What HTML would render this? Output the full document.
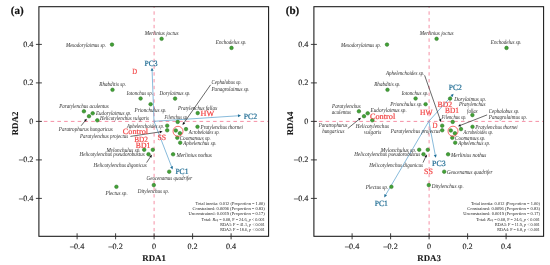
<!DOCTYPE html><html><head><meta charset="utf-8"><style>html,body{margin:0;padding:0;background:#fff;}svg{display:block;will-change:transform;}text{font-family:"Liberation Serif",serif;text-rendering:geometricPrecision;}</style></head><body>
<svg width="550" height="265" viewBox="0 0 550 265">
<rect width="550" height="265" fill="#fff"/>
<line x1="38.90" y1="121.4" x2="268.60" y2="121.4" stroke="#f590a5" stroke-width="1" stroke-dasharray="3.6 3.17" stroke-dashoffset="1.85"/>
<line x1="154.10" y1="6.7" x2="154.10" y2="236.3" stroke="#f590a5" stroke-width="1" stroke-dasharray="3.4 3.37" stroke-dashoffset="2.15"/>
<rect x="38.90" y="6.7" width="229.70" height="229.60" fill="none" stroke="#151515" stroke-width="1.05"/>
<line x1="77.10" y1="233.3" x2="77.10" y2="239.3" stroke="#2a2a2a" stroke-width="0.9"/>
<text x="77.10" y="249.20" font-size="8.2" fill="#1a1a1a" text-anchor="middle" stroke="#1a1a1a" stroke-width="0.12">–0.4</text>
<line x1="35.90" y1="198.40" x2="41.90" y2="198.40" stroke="#2a2a2a" stroke-width="0.9"/>
<text x="33.40" y="200.90" font-size="8.2" fill="#1a1a1a" text-anchor="end" stroke="#1a1a1a" stroke-width="0.12">–0.4</text>
<line x1="115.60" y1="233.3" x2="115.60" y2="239.3" stroke="#2a2a2a" stroke-width="0.9"/>
<text x="115.60" y="249.20" font-size="8.2" fill="#1a1a1a" text-anchor="middle" stroke="#1a1a1a" stroke-width="0.12">–0.2</text>
<line x1="35.90" y1="159.90" x2="41.90" y2="159.90" stroke="#2a2a2a" stroke-width="0.9"/>
<text x="33.40" y="162.40" font-size="8.2" fill="#1a1a1a" text-anchor="end" stroke="#1a1a1a" stroke-width="0.12">–0.2</text>
<line x1="154.10" y1="233.3" x2="154.10" y2="239.3" stroke="#2a2a2a" stroke-width="0.9"/>
<text x="154.10" y="249.20" font-size="8.2" fill="#1a1a1a" text-anchor="middle" stroke="#1a1a1a" stroke-width="0.12">0</text>
<line x1="35.90" y1="121.40" x2="41.90" y2="121.40" stroke="#2a2a2a" stroke-width="0.9"/>
<text x="33.40" y="123.90" font-size="8.2" fill="#1a1a1a" text-anchor="end" stroke="#1a1a1a" stroke-width="0.12">0</text>
<line x1="192.60" y1="233.3" x2="192.60" y2="239.3" stroke="#2a2a2a" stroke-width="0.9"/>
<text x="192.60" y="249.20" font-size="8.2" fill="#1a1a1a" text-anchor="middle" stroke="#1a1a1a" stroke-width="0.12">0.2</text>
<line x1="35.90" y1="82.90" x2="41.90" y2="82.90" stroke="#2a2a2a" stroke-width="0.9"/>
<text x="33.40" y="85.40" font-size="8.2" fill="#1a1a1a" text-anchor="end" stroke="#1a1a1a" stroke-width="0.12">0.2</text>
<line x1="231.10" y1="233.3" x2="231.10" y2="239.3" stroke="#2a2a2a" stroke-width="0.9"/>
<text x="231.10" y="249.20" font-size="8.2" fill="#1a1a1a" text-anchor="middle" stroke="#1a1a1a" stroke-width="0.12">0.4</text>
<line x1="35.90" y1="44.40" x2="41.90" y2="44.40" stroke="#2a2a2a" stroke-width="0.9"/>
<text x="33.40" y="46.90" font-size="8.2" fill="#1a1a1a" text-anchor="end" stroke="#1a1a1a" stroke-width="0.12">0.4</text>
<text x="154.10" y="261.40" font-size="8.9" fill="#1a1a1a" text-anchor="middle" font-weight="bold" stroke="#1a1a1a" stroke-width="0.1">RDA1</text>
<text x="0" y="0" font-size="8.9" font-weight="bold" fill="#1a1a1a" stroke="#1a1a1a" stroke-width="0.1" text-anchor="middle" transform="translate(17.60,123.50) rotate(-90)">RDA2</text>
<text x="10.80" y="14.00" font-size="11.0" fill="#111" text-anchor="start" font-weight="bold" stroke="#111" stroke-width="0.2">(a)</text>
<line x1="313.90" y1="121.4" x2="543.60" y2="121.4" stroke="#f590a5" stroke-width="1" stroke-dasharray="3.6 3.17" stroke-dashoffset="1.85"/>
<line x1="429.10" y1="6.7" x2="429.10" y2="236.3" stroke="#f590a5" stroke-width="1" stroke-dasharray="3.4 3.37" stroke-dashoffset="2.15"/>
<rect x="313.90" y="6.7" width="229.70" height="229.60" fill="none" stroke="#151515" stroke-width="1.05"/>
<line x1="352.10" y1="233.3" x2="352.10" y2="239.3" stroke="#2a2a2a" stroke-width="0.9"/>
<text x="352.10" y="249.20" font-size="8.2" fill="#1a1a1a" text-anchor="middle" stroke="#1a1a1a" stroke-width="0.12">–0.4</text>
<line x1="310.90" y1="198.40" x2="316.90" y2="198.40" stroke="#2a2a2a" stroke-width="0.9"/>
<text x="308.40" y="200.90" font-size="8.2" fill="#1a1a1a" text-anchor="end" stroke="#1a1a1a" stroke-width="0.12">–0.4</text>
<line x1="390.60" y1="233.3" x2="390.60" y2="239.3" stroke="#2a2a2a" stroke-width="0.9"/>
<text x="390.60" y="249.20" font-size="8.2" fill="#1a1a1a" text-anchor="middle" stroke="#1a1a1a" stroke-width="0.12">–0.2</text>
<line x1="310.90" y1="159.90" x2="316.90" y2="159.90" stroke="#2a2a2a" stroke-width="0.9"/>
<text x="308.40" y="162.40" font-size="8.2" fill="#1a1a1a" text-anchor="end" stroke="#1a1a1a" stroke-width="0.12">–0.2</text>
<line x1="429.10" y1="233.3" x2="429.10" y2="239.3" stroke="#2a2a2a" stroke-width="0.9"/>
<text x="429.10" y="249.20" font-size="8.2" fill="#1a1a1a" text-anchor="middle" stroke="#1a1a1a" stroke-width="0.12">0</text>
<line x1="310.90" y1="121.40" x2="316.90" y2="121.40" stroke="#2a2a2a" stroke-width="0.9"/>
<text x="308.40" y="123.90" font-size="8.2" fill="#1a1a1a" text-anchor="end" stroke="#1a1a1a" stroke-width="0.12">0</text>
<line x1="467.60" y1="233.3" x2="467.60" y2="239.3" stroke="#2a2a2a" stroke-width="0.9"/>
<text x="467.60" y="249.20" font-size="8.2" fill="#1a1a1a" text-anchor="middle" stroke="#1a1a1a" stroke-width="0.12">0.2</text>
<line x1="310.90" y1="82.90" x2="316.90" y2="82.90" stroke="#2a2a2a" stroke-width="0.9"/>
<text x="308.40" y="85.40" font-size="8.2" fill="#1a1a1a" text-anchor="end" stroke="#1a1a1a" stroke-width="0.12">0.2</text>
<line x1="506.10" y1="233.3" x2="506.10" y2="239.3" stroke="#2a2a2a" stroke-width="0.9"/>
<text x="506.10" y="249.20" font-size="8.2" fill="#1a1a1a" text-anchor="middle" stroke="#1a1a1a" stroke-width="0.12">0.4</text>
<line x1="310.90" y1="44.40" x2="316.90" y2="44.40" stroke="#2a2a2a" stroke-width="0.9"/>
<text x="308.40" y="46.90" font-size="8.2" fill="#1a1a1a" text-anchor="end" stroke="#1a1a1a" stroke-width="0.12">0.4</text>
<text x="429.10" y="261.40" font-size="8.9" fill="#1a1a1a" text-anchor="middle" font-weight="bold" stroke="#1a1a1a" stroke-width="0.1">RDA3</text>
<text x="0" y="0" font-size="8.9" font-weight="bold" fill="#1a1a1a" stroke="#1a1a1a" stroke-width="0.1" text-anchor="middle" transform="translate(292.60,123.50) rotate(-90)">RDA4</text>
<text x="285.80" y="14.00" font-size="11.0" fill="#111" text-anchor="start" font-weight="bold" stroke="#111" stroke-width="0.2">(b)</text>
<line x1="154.00" y1="121.30" x2="171.63" y2="166.88" stroke="#6aaad2" stroke-width="0.8"/><polygon points="172.60,169.40 170.12,167.14 172.92,166.06" fill="#1f6e96"/>
<line x1="154.00" y1="121.30" x2="238.31" y2="115.78" stroke="#6aaad2" stroke-width="0.8"/><polygon points="241.00,115.60 238.10,117.29 237.91,114.30" fill="#1f6e96"/>
<line x1="154.00" y1="121.30" x2="152.10" y2="70.50" stroke="#6aaad2" stroke-width="0.8"/><polygon points="152.00,67.80 153.61,70.74 150.61,70.85" fill="#1f6e96"/>
<line x1="428.80" y1="121.30" x2="385.57" y2="195.07" stroke="#6aaad2" stroke-width="0.8"/><polygon points="384.20,197.40 384.42,194.05 387.01,195.57" fill="#1f6e96"/>
<line x1="428.80" y1="121.30" x2="451.79" y2="95.81" stroke="#6aaad2" stroke-width="0.8"/><polygon points="453.60,93.80 452.70,97.03 450.48,95.02" fill="#1f6e96"/>
<line x1="428.80" y1="121.30" x2="435.29" y2="155.15" stroke="#6aaad2" stroke-width="0.8"/><polygon points="435.80,157.80 433.76,155.14 436.71,154.57" fill="#1f6e96"/>
<line x1="81.10" y1="125.80" x2="85.23" y2="120.65" stroke="#2a2a2a" stroke-width="0.7"/><polygon points="86.80,118.70 86.06,121.70 84.03,120.07" fill="#111"/>
<line x1="130.40" y1="136.40" x2="160.13" y2="131.88" stroke="#2a2a2a" stroke-width="0.7"/><polygon points="162.60,131.50 160.03,133.21 159.64,130.64" fill="#111"/>
<line x1="210.60" y1="84.80" x2="183.93" y2="122.95" stroke="#2a2a2a" stroke-width="0.7"/><polygon points="182.50,125.00 183.04,121.96 185.17,123.45" fill="#111"/>
<line x1="146.60" y1="162.60" x2="150.51" y2="156.78" stroke="#2a2a2a" stroke-width="0.7"/><polygon points="151.90,154.70 151.42,157.75 149.26,156.30" fill="#111"/>
<line x1="347.90" y1="128.40" x2="359.06" y2="119.37" stroke="#2a2a2a" stroke-width="0.7"/><polygon points="361.00,117.80 359.64,120.57 358.01,118.55" fill="#111"/>
<line x1="424.60" y1="75.30" x2="440.17" y2="119.54" stroke="#2a2a2a" stroke-width="0.7"/><polygon points="441.00,121.90 438.84,119.69 441.30,118.83" fill="#111"/>
<line x1="487.10" y1="114.90" x2="460.33" y2="125.39" stroke="#2a2a2a" stroke-width="0.7"/><polygon points="458.00,126.30 460.13,124.07 461.08,126.49" fill="#111"/>
<line x1="423.00" y1="162.60" x2="425.75" y2="156.67" stroke="#2a2a2a" stroke-width="0.7"/><polygon points="426.80,154.40 426.80,157.49 424.44,156.39" fill="#111"/>
<circle cx="112.00" cy="44.60" r="1.8" fill="#43a236" stroke="#2a7625" stroke-width="0.55"/>
<circle cx="161.60" cy="38.80" r="1.8" fill="#43a236" stroke="#2a7625" stroke-width="0.55"/>
<circle cx="231.50" cy="47.90" r="1.8" fill="#43a236" stroke="#2a7625" stroke-width="0.55"/>
<circle cx="112.50" cy="89.80" r="1.8" fill="#43a236" stroke="#2a7625" stroke-width="0.55"/>
<circle cx="140.60" cy="98.50" r="1.8" fill="#43a236" stroke="#2a7625" stroke-width="0.55"/>
<circle cx="175.10" cy="98.60" r="1.8" fill="#43a236" stroke="#2a7625" stroke-width="0.55"/>
<circle cx="150.60" cy="104.20" r="1.8" fill="#43a236" stroke="#2a7625" stroke-width="0.55"/>
<circle cx="197.70" cy="113.10" r="1.8" fill="#43a236" stroke="#2a7625" stroke-width="0.55"/>
<circle cx="83.90" cy="111.30" r="1.8" fill="#43a236" stroke="#2a7625" stroke-width="0.55"/>
<circle cx="92.70" cy="113.30" r="1.8" fill="#43a236" stroke="#2a7625" stroke-width="0.55"/>
<circle cx="89.00" cy="116.20" r="1.8" fill="#43a236" stroke="#2a7625" stroke-width="0.55"/>
<circle cx="97.30" cy="120.30" r="1.8" fill="#43a236" stroke="#2a7625" stroke-width="0.55"/>
<circle cx="177.70" cy="121.90" r="1.8" fill="#43a236" stroke="#2a7625" stroke-width="0.55"/>
<circle cx="167.20" cy="125.70" r="1.8" fill="#43a236" stroke="#2a7625" stroke-width="0.55"/>
<circle cx="167.20" cy="130.30" r="1.8" fill="#43a236" stroke="#2a7625" stroke-width="0.55"/>
<circle cx="175.80" cy="130.50" r="1.8" fill="#43a236" stroke="#2a7625" stroke-width="0.55"/>
<circle cx="179.90" cy="133.20" r="1.8" fill="#43a236" stroke="#2a7625" stroke-width="0.55"/>
<circle cx="186.00" cy="129.10" r="1.8" fill="#43a236" stroke="#2a7625" stroke-width="0.55"/>
<circle cx="197.50" cy="126.80" r="1.8" fill="#43a236" stroke="#2a7625" stroke-width="0.55"/>
<circle cx="177.30" cy="137.80" r="1.8" fill="#43a236" stroke="#2a7625" stroke-width="0.55"/>
<circle cx="180.20" cy="142.70" r="1.8" fill="#43a236" stroke="#2a7625" stroke-width="0.55"/>
<circle cx="144.20" cy="149.80" r="1.8" fill="#43a236" stroke="#2a7625" stroke-width="0.55"/>
<circle cx="152.80" cy="149.80" r="1.8" fill="#43a236" stroke="#2a7625" stroke-width="0.55"/>
<circle cx="148.50" cy="154.20" r="1.8" fill="#43a236" stroke="#2a7625" stroke-width="0.55"/>
<circle cx="173.10" cy="154.30" r="1.8" fill="#43a236" stroke="#2a7625" stroke-width="0.55"/>
<circle cx="169.20" cy="171.70" r="1.8" fill="#43a236" stroke="#2a7625" stroke-width="0.55"/>
<circle cx="153.80" cy="185.10" r="1.8" fill="#43a236" stroke="#2a7625" stroke-width="0.55"/>
<circle cx="116.40" cy="186.80" r="1.8" fill="#43a236" stroke="#2a7625" stroke-width="0.55"/>
<circle cx="387.00" cy="44.60" r="1.8" fill="#43a236" stroke="#2a7625" stroke-width="0.55"/>
<circle cx="436.60" cy="38.80" r="1.8" fill="#43a236" stroke="#2a7625" stroke-width="0.55"/>
<circle cx="506.50" cy="47.90" r="1.8" fill="#43a236" stroke="#2a7625" stroke-width="0.55"/>
<circle cx="387.50" cy="89.80" r="1.8" fill="#43a236" stroke="#2a7625" stroke-width="0.55"/>
<circle cx="415.60" cy="98.50" r="1.8" fill="#43a236" stroke="#2a7625" stroke-width="0.55"/>
<circle cx="450.10" cy="98.60" r="1.8" fill="#43a236" stroke="#2a7625" stroke-width="0.55"/>
<circle cx="425.60" cy="104.20" r="1.8" fill="#43a236" stroke="#2a7625" stroke-width="0.55"/>
<circle cx="472.40" cy="115.10" r="1.8" fill="#43a236" stroke="#2a7625" stroke-width="0.55"/>
<circle cx="358.90" cy="111.30" r="1.8" fill="#43a236" stroke="#2a7625" stroke-width="0.55"/>
<circle cx="367.70" cy="113.30" r="1.8" fill="#43a236" stroke="#2a7625" stroke-width="0.55"/>
<circle cx="364.00" cy="116.20" r="1.8" fill="#43a236" stroke="#2a7625" stroke-width="0.55"/>
<circle cx="372.30" cy="120.30" r="1.8" fill="#43a236" stroke="#2a7625" stroke-width="0.55"/>
<circle cx="452.70" cy="121.90" r="1.8" fill="#43a236" stroke="#2a7625" stroke-width="0.55"/>
<circle cx="442.20" cy="125.70" r="1.8" fill="#43a236" stroke="#2a7625" stroke-width="0.55"/>
<circle cx="442.20" cy="130.30" r="1.8" fill="#43a236" stroke="#2a7625" stroke-width="0.55"/>
<circle cx="450.80" cy="130.50" r="1.8" fill="#43a236" stroke="#2a7625" stroke-width="0.55"/>
<circle cx="454.90" cy="133.20" r="1.8" fill="#43a236" stroke="#2a7625" stroke-width="0.55"/>
<circle cx="461.00" cy="129.10" r="1.8" fill="#43a236" stroke="#2a7625" stroke-width="0.55"/>
<circle cx="472.50" cy="126.80" r="1.8" fill="#43a236" stroke="#2a7625" stroke-width="0.55"/>
<circle cx="452.30" cy="137.80" r="1.8" fill="#43a236" stroke="#2a7625" stroke-width="0.55"/>
<circle cx="455.20" cy="142.70" r="1.8" fill="#43a236" stroke="#2a7625" stroke-width="0.55"/>
<circle cx="419.20" cy="149.80" r="1.8" fill="#43a236" stroke="#2a7625" stroke-width="0.55"/>
<circle cx="427.80" cy="149.80" r="1.8" fill="#43a236" stroke="#2a7625" stroke-width="0.55"/>
<circle cx="423.50" cy="154.20" r="1.8" fill="#43a236" stroke="#2a7625" stroke-width="0.55"/>
<circle cx="448.10" cy="154.30" r="1.8" fill="#43a236" stroke="#2a7625" stroke-width="0.55"/>
<circle cx="444.20" cy="171.70" r="1.8" fill="#43a236" stroke="#2a7625" stroke-width="0.55"/>
<circle cx="428.80" cy="185.10" r="1.8" fill="#43a236" stroke="#2a7625" stroke-width="0.55"/>
<circle cx="391.40" cy="186.80" r="1.8" fill="#43a236" stroke="#2a7625" stroke-width="0.55"/>
<circle cx="178.0" cy="131.3" r="5.0" fill="none" stroke="#f04848" stroke-width="0.8"/>
<circle cx="453.0" cy="131.2" r="5.0" fill="none" stroke="#f04848" stroke-width="0.8"/>
<text x="66.00" y="46.80" font-size="6.0" fill="#2a2a2a" font-style="italic" text-anchor="start" textLength="40.10" lengthAdjust="spacingAndGlyphs">Mesodorylaimus sp.</text>
<text x="144.75" y="35.40" font-size="6.0" fill="#2a2a2a" font-style="italic" text-anchor="start" textLength="33.75" lengthAdjust="spacingAndGlyphs">Merlinius joctus</text>
<text x="215.80" y="44.10" font-size="6.0" fill="#2a2a2a" font-style="italic" text-anchor="start" textLength="30.80" lengthAdjust="spacingAndGlyphs">Enchodelus sp.</text>
<text x="99.30" y="86.20" font-size="6.0" fill="#2a2a2a" font-style="italic" text-anchor="start" textLength="26.70" lengthAdjust="spacingAndGlyphs">Rhabditis sp.</text>
<text x="126.80" y="95.20" font-size="6.0" fill="#2a2a2a" font-style="italic" text-anchor="start" textLength="26.10" lengthAdjust="spacingAndGlyphs">Iotonchus sp.</text>
<text x="159.50" y="95.00" font-size="6.0" fill="#2a2a2a" font-style="italic" text-anchor="start" textLength="31.10" lengthAdjust="spacingAndGlyphs">Dorylaimus sp.</text>
<text x="134.60" y="112.40" font-size="6.0" fill="#2a2a2a" font-style="italic" text-anchor="start" textLength="31.90" lengthAdjust="spacingAndGlyphs">Prionchulus sp.</text>
<text x="211.50" y="84.20" font-size="6.0" fill="#2a2a2a" font-style="italic" text-anchor="start" textLength="30.20" lengthAdjust="spacingAndGlyphs">Cephalobus sp.</text>
<text x="211.50" y="90.80" font-size="6.0" fill="#2a2a2a" font-style="italic" text-anchor="start" textLength="38.10" lengthAdjust="spacingAndGlyphs">Panagrolaimus sp.</text>
<text x="177.90" y="109.70" font-size="6.0" fill="#2a2a2a" font-style="italic" text-anchor="start" textLength="39.30" lengthAdjust="spacingAndGlyphs">Pratylenchus fallax</text>
<text x="59.20" y="107.80" font-size="6.0" fill="#2a2a2a" font-style="italic" text-anchor="start" textLength="49.50" lengthAdjust="spacingAndGlyphs">Paratylenchus aculentus</text>
<text x="96.00" y="114.90" font-size="6.0" fill="#2a2a2a" font-style="italic" text-anchor="start" textLength="35.40" lengthAdjust="spacingAndGlyphs">Eudorylaimus sp.</text>
<text x="100.00" y="119.90" font-size="6.0" fill="#2a2a2a" font-style="italic" text-anchor="start" textLength="49.00" lengthAdjust="spacingAndGlyphs">Helicotylenchus vulgaris</text>
<text x="58.80" y="131.00" font-size="6.0" fill="#2a2a2a" font-style="italic" text-anchor="start" textLength="54.00" lengthAdjust="spacingAndGlyphs">Paratrophurus hungaricus</text>
<text x="80.10" y="138.10" font-size="6.0" fill="#2a2a2a" font-style="italic" text-anchor="start" textLength="48.10" lengthAdjust="spacingAndGlyphs">Paratylenchus projectus</text>
<text x="126.90" y="127.90" font-size="6.0" fill="#2a2a2a" font-style="italic" text-anchor="start" textLength="37.10" lengthAdjust="spacingAndGlyphs">Aphelenchoides sp.</text>
<text x="164.50" y="118.50" font-size="6.0" fill="#2a2a2a" font-style="italic" text-anchor="start" textLength="23.50" lengthAdjust="spacingAndGlyphs">Filenchus sp.</text>
<text x="200.60" y="129.30" font-size="6.0" fill="#2a2a2a" font-style="italic" text-anchor="start" textLength="42.20" lengthAdjust="spacingAndGlyphs">Pratylenchus thornei</text>
<text x="188.70" y="134.20" font-size="6.0" fill="#2a2a2a" font-style="italic" text-anchor="start" textLength="31.10" lengthAdjust="spacingAndGlyphs">Acrobeloides sp.</text>
<text x="179.70" y="140.00" font-size="6.0" fill="#2a2a2a" font-style="italic" text-anchor="start" textLength="31.10" lengthAdjust="spacingAndGlyphs">Coomansus sp.</text>
<text x="183.20" y="145.00" font-size="6.0" fill="#2a2a2a" font-style="italic" text-anchor="start" textLength="33.30" lengthAdjust="spacingAndGlyphs">Aphelenchus sp.</text>
<text x="106.40" y="151.60" font-size="6.0" fill="#2a2a2a" font-style="italic" text-anchor="start" textLength="34.20" lengthAdjust="spacingAndGlyphs">Mylonchulus sp.</text>
<text x="79.50" y="156.30" font-size="6.0" fill="#2a2a2a" font-style="italic" text-anchor="start" textLength="65.20" lengthAdjust="spacingAndGlyphs">Helicotylenchus pseudorobustus</text>
<text x="93.60" y="167.00" font-size="6.0" fill="#2a2a2a" font-style="italic" text-anchor="start" textLength="53.00" lengthAdjust="spacingAndGlyphs">Helicotylenchus digonicus</text>
<text x="176.40" y="156.50" font-size="6.0" fill="#2a2a2a" font-style="italic" text-anchor="start" textLength="35.50" lengthAdjust="spacingAndGlyphs">Merlinius nothus</text>
<text x="146.60" y="179.70" font-size="6.0" fill="#2a2a2a" font-style="italic" text-anchor="start" textLength="45.70" lengthAdjust="spacingAndGlyphs">Geocenamus quadrifer</text>
<text x="137.70" y="192.60" font-size="6.0" fill="#2a2a2a" font-style="italic" text-anchor="start" textLength="31.50" lengthAdjust="spacingAndGlyphs">Ditylenchus sp.</text>
<text x="105.50" y="195.20" font-size="6.0" fill="#2a2a2a" font-style="italic" text-anchor="start" textLength="22.20" lengthAdjust="spacingAndGlyphs">Plectus sp.</text>
<text x="341.00" y="46.80" font-size="6.0" fill="#2a2a2a" font-style="italic" text-anchor="start" textLength="40.10" lengthAdjust="spacingAndGlyphs">Mesodorylaimus sp.</text>
<text x="419.75" y="35.40" font-size="6.0" fill="#2a2a2a" font-style="italic" text-anchor="start" textLength="33.75" lengthAdjust="spacingAndGlyphs">Merlinius joctus</text>
<text x="490.80" y="44.10" font-size="6.0" fill="#2a2a2a" font-style="italic" text-anchor="start" textLength="30.80" lengthAdjust="spacingAndGlyphs">Enchodelus sp.</text>
<text x="385.90" y="74.60" font-size="6.0" fill="#2a2a2a" font-style="italic" text-anchor="start" textLength="38.50" lengthAdjust="spacingAndGlyphs">Aphelenchoides sp.</text>
<text x="374.30" y="86.00" font-size="6.0" fill="#2a2a2a" font-style="italic" text-anchor="start" textLength="26.30" lengthAdjust="spacingAndGlyphs">Rhabditis sp.</text>
<text x="401.70" y="95.00" font-size="6.0" fill="#2a2a2a" font-style="italic" text-anchor="start" textLength="26.80" lengthAdjust="spacingAndGlyphs">Iotonchus sp.</text>
<text x="390.20" y="106.40" font-size="6.0" fill="#2a2a2a" font-style="italic" text-anchor="start" textLength="32.40" lengthAdjust="spacingAndGlyphs">Prionchulus sp.</text>
<text x="332.10" y="107.70" font-size="6.0" fill="#2a2a2a" font-style="italic" text-anchor="start" textLength="28.70" lengthAdjust="spacingAndGlyphs">Paratylenchus</text>
<text x="331.80" y="114.20" font-size="6.0" fill="#2a2a2a" font-style="italic" text-anchor="start" textLength="19.20" lengthAdjust="spacingAndGlyphs">aculentus</text>
<text x="370.60" y="112.40" font-size="6.0" fill="#2a2a2a" font-style="italic" text-anchor="start" textLength="36.10" lengthAdjust="spacingAndGlyphs">Eudorylaimus sp.</text>
<text x="454.20" y="101.00" font-size="6.0" fill="#2a2a2a" font-style="italic" text-anchor="start" textLength="31.90" lengthAdjust="spacingAndGlyphs">Dorylaimus sp.</text>
<text x="459.00" y="106.40" font-size="6.0" fill="#2a2a2a" font-style="italic" text-anchor="start" textLength="26.50" lengthAdjust="spacingAndGlyphs">Pratylenchus</text>
<text x="467.10" y="112.50" font-size="6.0" fill="#2a2a2a" font-style="italic" text-anchor="start" textLength="10.50" lengthAdjust="spacingAndGlyphs">fallax</text>
<text x="488.80" y="112.70" font-size="6.0" fill="#2a2a2a" font-style="italic" text-anchor="start" textLength="30.60" lengthAdjust="spacingAndGlyphs">Cephalobus sp.</text>
<text x="488.80" y="119.20" font-size="6.0" fill="#2a2a2a" font-style="italic" text-anchor="start" textLength="38.20" lengthAdjust="spacingAndGlyphs">Panagrolaimus sp.</text>
<text x="318.80" y="127.10" font-size="6.0" fill="#2a2a2a" font-style="italic" text-anchor="start" textLength="28.70" lengthAdjust="spacingAndGlyphs">Paratrophurus</text>
<text x="322.20" y="133.10" font-size="6.0" fill="#2a2a2a" font-style="italic" text-anchor="start" textLength="22.20" lengthAdjust="spacingAndGlyphs">hungaricus</text>
<text x="355.80" y="128.20" font-size="6.0" fill="#2a2a2a" font-style="italic" text-anchor="start" textLength="33.20" lengthAdjust="spacingAndGlyphs">Helicotylenchus</text>
<text x="364.00" y="133.90" font-size="6.0" fill="#2a2a2a" font-style="italic" text-anchor="start" textLength="17.40" lengthAdjust="spacingAndGlyphs">vulgaris</text>
<text x="441.50" y="119.20" font-size="6.0" fill="#2a2a2a" font-style="italic" text-anchor="start" textLength="24.90" lengthAdjust="spacingAndGlyphs">Filenchus sp.</text>
<text x="390.80" y="132.50" font-size="6.0" fill="#2a2a2a" font-style="italic" text-anchor="start" textLength="49.40" lengthAdjust="spacingAndGlyphs">Paratylenchus projectus</text>
<text x="475.30" y="128.80" font-size="6.0" fill="#2a2a2a" font-style="italic" text-anchor="start" textLength="42.40" lengthAdjust="spacingAndGlyphs">Pratylenchus thornei</text>
<text x="463.60" y="133.70" font-size="6.0" fill="#2a2a2a" font-style="italic" text-anchor="start" textLength="29.50" lengthAdjust="spacingAndGlyphs">Acrobeloides sp.</text>
<text x="455.10" y="139.70" font-size="6.0" fill="#2a2a2a" font-style="italic" text-anchor="start" textLength="30.50" lengthAdjust="spacingAndGlyphs">Coomansus sp.</text>
<text x="458.20" y="144.90" font-size="6.0" fill="#2a2a2a" font-style="italic" text-anchor="start" textLength="32.00" lengthAdjust="spacingAndGlyphs">Aphelenchus sp.</text>
<text x="380.80" y="151.60" font-size="6.0" fill="#2a2a2a" font-style="italic" text-anchor="start" textLength="35.40" lengthAdjust="spacingAndGlyphs">Mylonchulus sp.</text>
<text x="354.20" y="156.40" font-size="6.0" fill="#2a2a2a" font-style="italic" text-anchor="start" textLength="66.00" lengthAdjust="spacingAndGlyphs">Helicotylenchus pseudorobustus</text>
<text x="369.20" y="167.30" font-size="6.0" fill="#2a2a2a" font-style="italic" text-anchor="start" textLength="53.80" lengthAdjust="spacingAndGlyphs">Helicotylenchus digonicus</text>
<text x="451.00" y="156.50" font-size="6.0" fill="#2a2a2a" font-style="italic" text-anchor="start" textLength="35.40" lengthAdjust="spacingAndGlyphs">Merlinius nothus</text>
<text x="446.90" y="173.90" font-size="6.0" fill="#2a2a2a" font-style="italic" text-anchor="start" textLength="45.60" lengthAdjust="spacingAndGlyphs">Geocenamus quadrifer</text>
<text x="431.70" y="187.50" font-size="6.0" fill="#2a2a2a" font-style="italic" text-anchor="start" textLength="32.00" lengthAdjust="spacingAndGlyphs">Ditylenchus sp.</text>
<text x="365.70" y="189.00" font-size="6.0" fill="#2a2a2a" font-style="italic" text-anchor="start" textLength="22.60" lengthAdjust="spacingAndGlyphs">Plectus sp.</text>
<text x="132.20" y="73.90" font-size="8.0" fill="#f24444" text-anchor="start" textLength="4.80" lengthAdjust="spacingAndGlyphs" stroke="#f24444" stroke-width="0.2">D</text>
<text x="200.60" y="116.30" font-size="8.0" fill="#f24444" text-anchor="start" textLength="13.60" lengthAdjust="spacingAndGlyphs" stroke="#f24444" stroke-width="0.2">HW</text>
<text x="122.80" y="133.90" font-size="8.0" fill="#f24444" text-anchor="start" textLength="25.30" lengthAdjust="spacingAndGlyphs" stroke="#f24444" stroke-width="0.2">Control</text>
<text x="134.20" y="142.20" font-size="8.0" fill="#f24444" text-anchor="start" textLength="13.70" lengthAdjust="spacingAndGlyphs" stroke="#f24444" stroke-width="0.2">BD2</text>
<text x="135.80" y="148.00" font-size="8.0" fill="#f24444" text-anchor="start" textLength="14.40" lengthAdjust="spacingAndGlyphs" stroke="#f24444" stroke-width="0.2">BD1</text>
<text x="157.40" y="139.80" font-size="8.0" fill="#f24444" text-anchor="start" textLength="8.60" lengthAdjust="spacingAndGlyphs" stroke="#f24444" stroke-width="0.2">SS</text>
<text x="369.90" y="118.90" font-size="8.0" fill="#f24444" text-anchor="start" textLength="25.40" lengthAdjust="spacingAndGlyphs" stroke="#f24444" stroke-width="0.2">Control</text>
<text x="420.00" y="114.60" font-size="8.0" fill="#f24444" text-anchor="start" textLength="12.60" lengthAdjust="spacingAndGlyphs" stroke="#f24444" stroke-width="0.2">HW</text>
<text x="437.60" y="106.60" font-size="8.0" fill="#f24444" text-anchor="start" textLength="14.50" lengthAdjust="spacingAndGlyphs" stroke="#f24444" stroke-width="0.2">BD2</text>
<text x="445.00" y="112.60" font-size="8.0" fill="#f24444" text-anchor="start" textLength="13.90" lengthAdjust="spacingAndGlyphs" stroke="#f24444" stroke-width="0.2">BD1</text>
<text x="432.60" y="128.40" font-size="8.0" fill="#f24444" text-anchor="start" textLength="5.00" lengthAdjust="spacingAndGlyphs" stroke="#f24444" stroke-width="0.2">D</text>
<text x="424.00" y="173.80" font-size="8.0" fill="#f24444" text-anchor="start" textLength="8.90" lengthAdjust="spacingAndGlyphs" stroke="#f24444" stroke-width="0.2">SS</text>
<text x="175.40" y="174.20" font-size="8.0" fill="#1b6a92" text-anchor="start" textLength="13.10" lengthAdjust="spacingAndGlyphs" stroke="#1b6a92" stroke-width="0.2">PC1</text>
<text x="243.80" y="118.50" font-size="8.0" fill="#1b6a92" text-anchor="start" textLength="13.40" lengthAdjust="spacingAndGlyphs" stroke="#1b6a92" stroke-width="0.2">PC2</text>
<text x="144.40" y="65.90" font-size="8.0" fill="#1b6a92" text-anchor="start" textLength="13.20" lengthAdjust="spacingAndGlyphs" stroke="#1b6a92" stroke-width="0.2">PC3</text>
<text x="374.70" y="206.00" font-size="8.0" fill="#1b6a92" text-anchor="start" textLength="13.20" lengthAdjust="spacingAndGlyphs" stroke="#1b6a92" stroke-width="0.2">PC1</text>
<text x="448.80" y="90.40" font-size="8.0" fill="#1b6a92" text-anchor="start" textLength="13.10" lengthAdjust="spacingAndGlyphs" stroke="#1b6a92" stroke-width="0.2">PC2</text>
<text x="432.10" y="165.80" font-size="8.0" fill="#1b6a92" text-anchor="start" textLength="13.60" lengthAdjust="spacingAndGlyphs" stroke="#1b6a92" stroke-width="0.2">PC3</text>
<text x="195.60" y="205.00" font-size="4.5" fill="#222" textLength="69.20" lengthAdjust="spacingAndGlyphs">Total inertia: 0.012 (Proportion = 1.00)</text><text x="192.50" y="209.70" font-size="4.5" fill="#222" textLength="72.30" lengthAdjust="spacingAndGlyphs">Constrained: 0.0096 (Proportion = 0.83)</text><text x="188.50" y="215.00" font-size="4.5" fill="#222" textLength="76.30" lengthAdjust="spacingAndGlyphs">Unconstrained: 0.0019 (Proportion = 0.17)</text><text x="201.50" y="220.50" font-size="4.5" fill="#222" textLength="63.30" lengthAdjust="spacingAndGlyphs">Total: <tspan font-style="italic">R</tspan><tspan font-size="3" dy="0.9">adj</tspan><tspan dy="-0.9"> = 0.68, F = 24.6, </tspan><tspan font-style="italic">p</tspan> &lt; 0.001</text><text x="220.20" y="225.90" font-size="4.5" fill="#222" textLength="44.60" lengthAdjust="spacingAndGlyphs">RDA1: F = 41.1, <tspan font-style="italic">p</tspan> &lt; 0.001</text><text x="220.20" y="230.90" font-size="4.5" fill="#222" textLength="44.60" lengthAdjust="spacingAndGlyphs">RDA2: F = 18.6, <tspan font-style="italic">p</tspan> &lt; 0.001</text>
<text x="470.90" y="205.00" font-size="4.5" fill="#222" textLength="69.00" lengthAdjust="spacingAndGlyphs">Total inertia: 0.012 (Proportion = 1.00)</text><text x="467.30" y="209.70" font-size="4.5" fill="#222" textLength="72.60" lengthAdjust="spacingAndGlyphs">Constrained: 0.0096 (Proportion = 0.83)</text><text x="463.20" y="215.00" font-size="4.5" fill="#222" textLength="76.70" lengthAdjust="spacingAndGlyphs">Unconstrained: 0.0019 (Proportion = 0.17)</text><text x="476.30" y="220.50" font-size="4.5" fill="#222" textLength="63.60" lengthAdjust="spacingAndGlyphs">Total: <tspan font-style="italic">R</tspan><tspan font-size="3" dy="0.9">adj</tspan><tspan dy="-0.9"> = 0.68, F = 24.6, </tspan><tspan font-style="italic">p</tspan> &lt; 0.001</text><text x="495.00" y="225.90" font-size="4.5" fill="#222" textLength="44.90" lengthAdjust="spacingAndGlyphs">RDA3: F = 11.9, <tspan font-style="italic">p</tspan> &lt; 0.001</text><text x="497.20" y="230.90" font-size="4.5" fill="#222" textLength="42.70" lengthAdjust="spacingAndGlyphs">RDA4: F = 6.8, <tspan font-style="italic">p</tspan> &lt; 0.001</text>
</svg></body></html>
